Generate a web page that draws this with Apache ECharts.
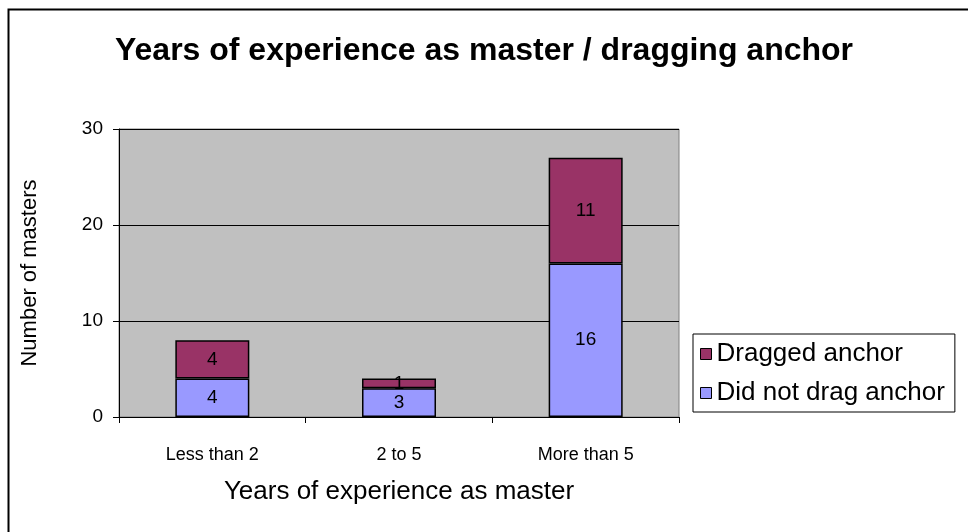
<!DOCTYPE html>
<html lang="en">
<head>
  <meta charset="UTF-8">
  <title>Years of experience as master / dragging anchor</title>
  <style>
    html, body { margin: 0; padding: 0; background: #fff; }
  </style>
</head>
<body>
  <div id="main" style="width: 968px; height: 532px;"></div>
  <script src="https://cdn.jsdelivr.net/npm/echarts@6/dist/echarts.min.js"></script>
  <script type="text/javascript">
    // data
    var categories = ['Less than 2', '2 to 5', 'More than 5'];
    var notDragged = [4, 3, 16];
    var dragged = [4, 1, 11];
    var yTicks = [0, 10, 20, 30];

    var font = 'Arial, "Liberation Sans", sans-serif';

    var myChart = echarts.init(document.getElementById('main'));

    option = {
      backgroundColor: '#fff',
      animation: false,
      title: {
        text: 'Years of experience as master / dragging anchor',
        left: 'center',
        top: 30,
        textStyle: { fontFamily: font, fontSize: 32, fontWeight: 'bold', color: '#000' }
      },
      // outer chart border, clipped on the right and bottom like the original
      graphic: [{
        type: 'rect',
        shape: { x: 8.5, y: 9.5, width: 1000, height: 600 },
        style: { fill: 'none', stroke: '#000', lineWidth: 2 },
        silent: true
      }],
      legend: {
        orient: 'vertical',
        left: 693,
        top: 334,
        padding: [7, 10, 6, 7],
        itemGap: 13,
        itemWidth: 11,
        itemHeight: 11,
        icon: 'rect',
        borderColor: '#000',
        borderWidth: 1,
        borderRadius: 0,
        backgroundColor: '#fff',
        itemStyle: { borderColor: '#000', borderWidth: 1 },
        textStyle: { fontFamily: font, fontSize: 26, color: '#000' },
        data: ['Dragged anchor', 'Did not drag anchor']
      },
      grid: {
        left: 119,
        top: 129,
        right: 289,
        bottom: 115,
        show: true,
        backgroundColor: '#C0C0C0',
        borderColor: '#808080',
        borderWidth: 1
      },
      xAxis: {
        type: 'category',
        data: categories,
        name: 'Years of experience as master',
        nameLocation: 'middle',
        nameGap: 62,
        nameTextStyle: { fontFamily: font, fontSize: 26, color: '#000' },
        axisLine: { lineStyle: { color: '#000', width: 1 } },
        axisTick: { show: true, length: 6, lineStyle: { color: '#000' } },
        axisLabel: { fontFamily: font, fontSize: 18, color: '#000', margin: 29 }
      },
      yAxis: {
        type: 'value',
        min: yTicks[0],
        max: yTicks[yTicks.length - 1],
        interval: 10,
        name: 'Number of masters',
        nameLocation: 'middle',
        nameGap: 78,
        nameTextStyle: { fontFamily: font, fontSize: 22, color: '#000' },
        axisLine: { show: true, lineStyle: { color: '#000', width: 1 } },
        axisTick: { show: true, length: 6, lineStyle: { color: '#000' } },
        axisLabel: { fontFamily: font, fontSize: 19, color: '#000', margin: 16 },
        splitLine: { show: true, lineStyle: { color: '#000', width: 1 } }
      },
      series: [{
        name: 'Did not drag anchor',
        type: 'bar',
        stack: 'total',
        barWidth: 74,
        data: notDragged,
        itemStyle: { color: '#9999FF', borderColor: '#000', borderWidth: 1.5 },
        label: { show: true, position: 'inside', fontFamily: font, fontSize: 19, color: '#000' }
      }, {
        name: 'Dragged anchor',
        type: 'bar',
        stack: 'total',
        barWidth: 74,
        data: dragged,
        itemStyle: { color: '#993366', borderColor: '#000', borderWidth: 1.5 },
        label: { show: true, position: 'inside', fontFamily: font, fontSize: 19, color: '#000' }
      }]
    };
    myChart.setOption(option);
  </script>
</body>
</html>
